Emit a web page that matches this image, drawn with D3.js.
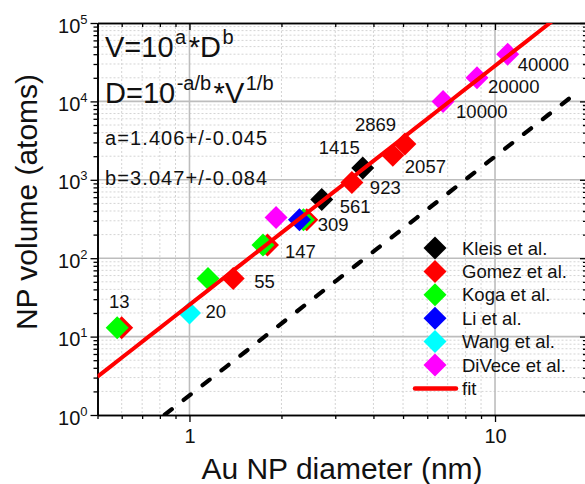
<!DOCTYPE html>
<html>
<head>
<meta charset="utf-8">
<script src="https://cdn.jsdelivr.net/npm/d3@7"></script>
<style>
  body { margin: 0; background: #fff; }
  svg { display: block; }
  text { font-family: "Liberation Sans", Arial, sans-serif; fill: #111; }
</style>
</head>
<body>
<div id="chart"></div>
<script>
// ---- data: Au nanoparticle diameter (nm) vs. volume (atoms) ----
const seriesNames  = ["Kleis et al.", "Gomez et al.", "Koga et al.", "Li et al.", "Wang et al.", "DiVece et al."];
const seriesColors = ["#000000", "#ff0000", "#00ff00", "#0000ff", "#00ffff", "#ff00ff"];

const kleisD  = [2.71, 3.69];
const kleisV  = [561, 1415];
const gomezD  = [0.60, 1.39, 1.80, 2.42, 3.40, 4.63, 5.07];
const gomezV  = [13, 55, 147, 309, 923, 2057, 2869];
const kogaD   = [0.58, 1.15, 1.74, 2.36];
const kogaV   = [13, 55, 147, 309];
const liD     = [2.29];
const liV     = [309];
const wangD   = [1.00];
const wangV   = [20];
const diveceD = [1.92, 6.76, 8.73, 11.0];
const diveceV = [330, 10000, 20000, 40000];

// power-law fit V = 10^a * D^b and the dashed reference line
const fitA = 1.406, fitB = 3.047;
const refA = 0.25,  refB = 3.047;
const refRange = [0.83, 17.5];

// value annotations (text, anchored at D, V)
const labelText = ["13", "20", "55", "147", "309", "561", "923", "1415", "2869", "2057", "10000", "20000", "40000"];
const labelD    = [0.58, 1.00, 1.39, 1.74, 2.42, 2.71, 3.40, 3.69, 5.07, 4.63, 6.76, 8.73, 11.0];
const labelV    = [13, 20, 55, 147, 309, 561, 923, 1415, 2869, 2057, 10000, 20000, 40000];

const xTickLabels = [1, 10];
const yTickExps   = [0, 1, 2, 3, 4, 5];

// ---- layout ----
const W = 585, H = 484;
const pLeft = 97.5, pRight = 587, pTop = 23, pBottom = 415;
const labelOffsets = [[2, -20, "middle"], [16, 5, "start"], [21, 9, "start"], [22, 13, "start"],
  [11, 11, "start"], [18, 14, "start"], [18, 11, "start"], [-44, -14, "start"], [-50, -13, "start"],
  [12, 18, "start"], [13, 17, "start"], [11, 15, "start"], [10, 17, "start"]];

const svg = d3.select("#chart").append("svg").attr("width", W).attr("height", H);

const x = d3.scaleLog().domain([0.5, 20]).range([pLeft, pRight]);
const y = d3.scaleLog().domain([1, 1e5]).range([pBottom, pTop]);

// tick sets
const xMinor = [];
[0.1, 1, 10].forEach(dec => { for (let k = 2; k <= 9; k++) { const v = k * dec; if (v >= 0.5 && v <= 20) xMinor.push(v); } });
xMinor.push(20);
const yMinor = [];
for (let e = 0; e < 5; e++) for (let k = 2; k <= 9; k++) yMinor.push(k * Math.pow(10, e));
const yMajor = yTickExps.map(e => Math.pow(10, e));

// ---- grid ----
const grid = svg.append("g");
grid.selectAll(".gxm").data(xMinor).join("line")
  .attr("x1", d => x(d)).attr("x2", d => x(d)).attr("y1", pTop).attr("y2", pBottom)
  .attr("stroke", "#d4d4d4").attr("stroke-width", 1).attr("stroke-dasharray", "2,2");
grid.selectAll(".gym").data(yMinor).join("line")
  .attr("y1", d => y(d)).attr("y2", d => y(d)).attr("x1", pLeft).attr("x2", pRight)
  .attr("stroke", "#d4d4d4").attr("stroke-width", 1).attr("stroke-dasharray", "2,2");
grid.selectAll(".gxM").data(xTickLabels).join("line")
  .attr("x1", d => x(d)).attr("x2", d => x(d)).attr("y1", pTop).attr("y2", pBottom)
  .attr("stroke", "#bdbdbd").attr("stroke-width", 1.6);
grid.selectAll(".gyM").data(yMajor.slice(1, -1)).join("line")
  .attr("y1", d => y(d)).attr("y2", d => y(d)).attr("x1", pLeft).attr("x2", pRight)
  .attr("stroke", "#bdbdbd").attr("stroke-width", 1.6);

// ---- axes ----
function styleAxis(g) {
  g.selectAll("path.domain").attr("stroke", "#000").attr("stroke-width", 1.6);
  g.selectAll(".tick line").attr("stroke", "#000").attr("stroke-width", 1.3);
}
// bottom
svg.append("g").attr("transform", `translate(0,${pBottom})`)
  .call(d3.axisBottom(x).tickValues(xMinor).tickSize(4).tickSizeOuter(0).tickFormat(""))
  .call(styleAxis);
const xAx = svg.append("g").attr("transform", `translate(0,${pBottom})`)
  .call(d3.axisBottom(x).tickValues(xTickLabels).tickSize(7).tickSizeOuter(0).tickFormat(d3.format("d")))
  .call(styleAxis);
xAx.selectAll(".tick text").attr("font-size", 20).attr("fill", "#111")
  .attr("font-family", '"Liberation Sans", Arial, sans-serif').attr("y", 14);
// top (inward ticks)
svg.append("g").attr("transform", `translate(0,${pTop})`)
  .call(d3.axisTop(x).tickValues(xMinor).tickSize(-4).tickSizeOuter(0).tickFormat(""))
  .call(styleAxis);
svg.append("g").attr("transform", `translate(0,${pTop})`)
  .call(d3.axisTop(x).tickValues(xTickLabels).tickSize(-7).tickSizeOuter(0).tickFormat(""))
  .call(styleAxis);
// left
svg.append("g").attr("transform", `translate(${pLeft},0)`)
  .call(d3.axisLeft(y).tickValues(yMinor).tickSize(4).tickSizeOuter(0).tickFormat(""))
  .call(styleAxis);
const yAx = svg.append("g").attr("transform", `translate(${pLeft},0)`)
  .call(d3.axisLeft(y).tickValues(yMajor).tickSize(7).tickSizeOuter(0).tickFormat(""))
  .call(styleAxis);
yAx.selectAll(".tick").each(function (d) {
  const t = d3.select(this).append("text")
    .attr("x", -10).attr("y", 9).attr("text-anchor", "end")
    .attr("font-size", 20).attr("fill", "#111")
    .attr("font-family", '"Liberation Sans", Arial, sans-serif');
  t.append("tspan").text("10");
  t.append("tspan").attr("font-size", 13).attr("dy", -9).text(Math.round(Math.log10(d)));
});
// right (inward ticks)
svg.append("g").attr("transform", `translate(${pRight},0)`)
  .call(d3.axisRight(y).tickValues(yMinor).tickSize(-4).tickSizeOuter(0).tickFormat(""))
  .call(styleAxis);
svg.append("g").attr("transform", `translate(${pRight},0)`)
  .call(d3.axisRight(y).tickValues(yMajor).tickSize(-7).tickSizeOuter(0).tickFormat(""))
  .call(styleAxis);

// ---- axis titles ----
svg.append("text").attr("x", 342).attr("y", 479).attr("text-anchor", "middle")
  .attr("font-size", 30).text("Au NP diameter (nm)");
svg.append("text").attr("transform", "translate(37,202) rotate(-90)").attr("text-anchor", "middle")
  .attr("font-size", 30).text("NP volume (atoms)");

// ---- plot content ----
svg.append("defs").append("clipPath").attr("id", "plotClip")
  .append("rect").attr("x", pLeft).attr("y", pTop).attr("width", pRight - pLeft).attr("height", pBottom - pTop);
const plot = svg.append("g").attr("clip-path", "url(#plotClip)");

// dashed reference line
const refPts = d3.range(0, 41).map(i => {
  const d = refRange[0] * Math.pow(refRange[1] / refRange[0], i / 40);
  return [d, Math.pow(10, refA) * Math.pow(d, refB)];
});
const line = d3.line().x(p => x(p[0])).y(p => y(p[1]));
plot.append("path").datum(refPts).attr("d", line).attr("fill", "none")
  .attr("stroke", "#000").attr("stroke-width", 4.2).attr("stroke-linecap", "round")
  .attr("stroke-dasharray", "9,15");

// markers (rotated squares)
const diamond = r => `M0,${-r}L${r},0L0,${r}L${-r},0Z`;
const seriesD = [kleisD, gomezD, kogaD, liD, wangD, diveceD];
const seriesV = [kleisV, gomezV, kogaV, liV, wangV, diveceV];
seriesNames.forEach((name, i) => {
  const pts = seriesD[i].map((d, j) => [d, seriesV[i][j]]);
  plot.append("g").selectAll("path").data(pts).join("path")
    .attr("d", diamond(11.5))
    .attr("transform", p => `translate(${x(p[0])},${y(p[1])})`)
    .attr("fill", seriesColors[i]);
});

// fit line
const fitPts = d3.range(0, 41).map(i => {
  const d = 0.5 * Math.pow(40, i / 40);
  return [d, Math.pow(10, fitA) * Math.pow(d, fitB)];
});
plot.append("path").datum(fitPts).attr("d", line).attr("fill", "none")
  .attr("stroke", "#ff0000").attr("stroke-width", 4);

// value labels
svg.append("g").selectAll("text").data(labelText).join("text")
  .attr("x", (t, i) => x(labelD[i]) + labelOffsets[i][0])
  .attr("y", (t, i) => y(labelV[i]) + labelOffsets[i][1])
  .attr("text-anchor", (t, i) => labelOffsets[i][2])
  .attr("font-size", 18.5).text(t => t);

// ---- formula annotation ----
function supText(xp, yp, parts, big, small) {
  const t = svg.append("text").attr("x", xp).attr("y", yp).attr("font-size", big);
  parts.forEach(([s, sup], k) => {
    const prevSup = k > 0 && parts[k - 1][1];
    const sp = t.append("tspan").text(s);
    if (sup) sp.attr("font-size", small).attr("dy", prevSup ? 0 : -13).attr("dx", 1.5);
    else if (prevSup) sp.attr("dy", 13).attr("dx", 2.5);
  });
}
supText(105, 57, [["V=10", false], ["a", true], ["*D", false], ["b", true]], 29, 20);
supText(105, 103, [["D=10", false], ["-a/b", true], ["*V", false], ["1/b", true]], 29, 20);
svg.append("text").attr("x", 105).attr("y", 145).attr("font-size", 20).attr("letter-spacing", 1.1).text("a=1.406+/-0.045");
svg.append("text").attr("x", 105).attr("y", 185).attr("font-size", 20).attr("letter-spacing", 1.1).text("b=3.047+/-0.084");

// ---- legend ----
const lg = svg.append("g");
const legY0 = 248, legStep = 23.4, legX = 435;
seriesNames.forEach((name, i) => {
  lg.append("path").attr("d", diamond(11.5))
    .attr("transform", `translate(${legX},${legY0 + i * legStep})`).attr("fill", seriesColors[i]);
  lg.append("text").attr("x", 462).attr("y", legY0 + i * legStep + 6.5).attr("font-size", 18.5).text(name);
});
const fitY = legY0 + 6 * legStep;
lg.append("line").attr("x1", 415).attr("x2", 456).attr("y1", fitY).attr("y2", fitY)
  .attr("stroke", "#ff0000").attr("stroke-width", 4.5).attr("stroke-linecap", "round");
lg.append("text").attr("x", 462).attr("y", fitY + 6.5).attr("font-size", 18.5).text("fit");
</script>
</body>
</html>
